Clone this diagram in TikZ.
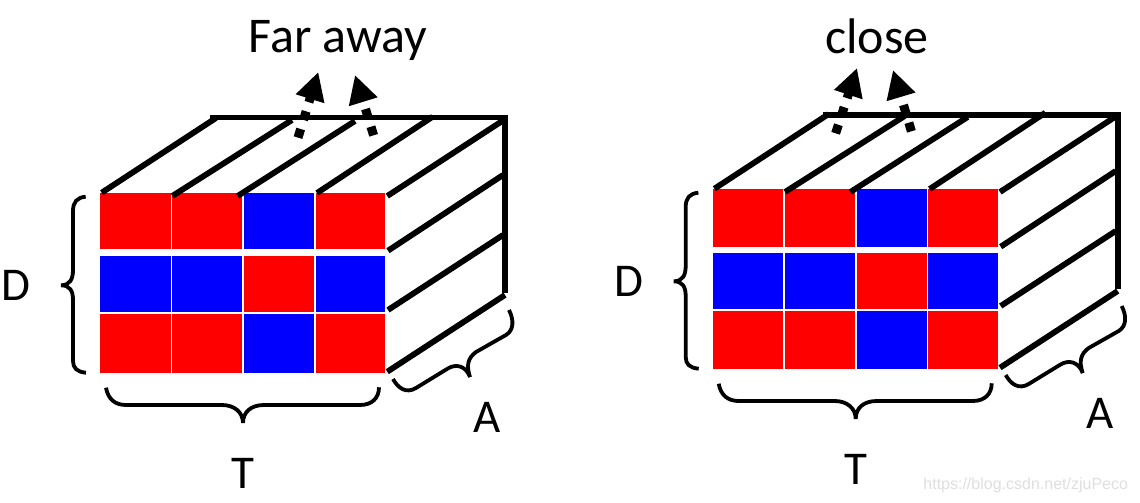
\documentclass[tikz,border=0pt]{standalone}
\usepackage{fontspec}
\setmainfont{Carlito}
\newfontfamily\markfont{Liberation Sans}
\usetikzlibrary{arrows.meta}
\definecolor{cellred}{RGB}{255,0,0}
\definecolor{cellblue}{RGB}{0,0,255}
\tikzset{
	edgeline/.style={line width=5.8pt, line cap=butt},
	bracket/.style={line width=3.8pt, line cap=butt},
	axistext/.style={font=\fontsize{47}{47}\selectfont},
	titletext/.style={font=\fontsize{50}{50}\selectfont},
	rayline/.style={line width=9pt, dash pattern=on 9pt off 9.5pt, -{Triangle[length=28pt, width=28pt]}}
}
\begin{document}
\begin{tikzpicture}[x=1pt, y=-1pt]
      \useasboundingbox (0,0) rectangle (1140,503);
      \foreach \dx/\dy/\ty/\ra/\rb/\rc/\rd/\re/\rf [count=\c] in {0/0/117.5/193.3/249.3/256/312.3/314.3/373.3, 612.7/-4/119/193.3/250.7/256.5/313.3/315/373.2}{
        \begin{scope}[shift={(\dx,\dy)}]
          % front face
          \foreach \xa/\xb/\cola/\colb/\colc in {100/170.7/cellred/cellblue/cellred,172/242/cellred/cellblue/cellred,244/314/cellblue/cellred/cellblue,315.7/385.3/cellred/cellblue/cellred}{
            \fill[fill=\cola] (\xa,\ra) rectangle (\xb,\rb);
            \fill[fill=\colb] (\xa,\rc) rectangle (\xb,\rd);
            \fill[fill=\colc] (\xa,\re) rectangle (\xb,\rf);
          }
          % top and side edges
          \draw[edgeline] (210,\ty) -- (508,\ty);
          \draw[edgeline, line width=6.2pt] (505,\ty) -- (505,292.7);
          \foreach \xa/\ya/\xb/\yb in {101.7/192.7/216/118,172.3/196/292/120,237.7/196/355/121,317/193/432.7/116.7,387.3/196/503/120.5,388/250.7/503/175,388/310/503/235,387.3/371.7/505/295}{
            \draw[edgeline] (\xa,\ya) -- (\xb,\yb);
          }
          % braces
          \draw[bracket] (85.7,196.7) .. controls (77,197.5) and (73,202) .. (73,211) -- (73,270) .. controls (73,279) and (70,285.3) .. (61,285.3) .. controls (70,285.3) and (73,291) .. (73,300) -- (73,361) .. controls (73,368) and (77,372) .. (86,372.7);
          \draw[bracket] (106,387.7) .. controls (108,399) and (115,405) .. (126,405) -- (222,405) .. controls (234,405) and (243,412) .. (243,423) .. controls (243,412) and (251,405) .. (264,405) -- (360,405) .. controls (372,405) and (379,398) .. (379,387.3);
          \draw[bracket] (393,379) .. controls (398,388) and (406,394) .. (416,388) -- (447,369) .. controls (456,363) and (466,366) .. (470,377) .. controls (466,365) and (468,358) .. (476,352) -- (506,335) .. controls (514,330) and (514,320) .. (509,310);
          % axis labels
          \node[axistext] (depth\c) at (16,285) {D};
          \node[axistext] (time\c) at (243,473) {T};
          \node[axistext] (ampl\c) at (487,417) {A};
        \end{scope}
      }
      \node[titletext, anchor=base] (far) at (338,52.5) {Far away};
      \node[titletext, anchor=base] (near) at (877,53.5) {close};
      \coordinate (farlow) at (298,137.6);
      \coordinate (farhigh) at (373.6,135.3);
      \coordinate (nearlow) at (835.6,133.3);
      \coordinate (nearhigh) at (911.4,131.3);
      \draw[rayline] (farlow) -- (318.3,72);
      \draw[rayline] (farhigh) -- (355,75);
      \draw[rayline] (nearlow) -- (857,68);
      \draw[rayline] (nearhigh) -- (893,70);
      \node[font=\fontsize{16}{16}\selectfont\markfont, text=black!13, anchor=east] (mark) at (1131.5,485) {https://blog.csdn.net/zjuPeco};
    \end{tikzpicture}
\end{document}
